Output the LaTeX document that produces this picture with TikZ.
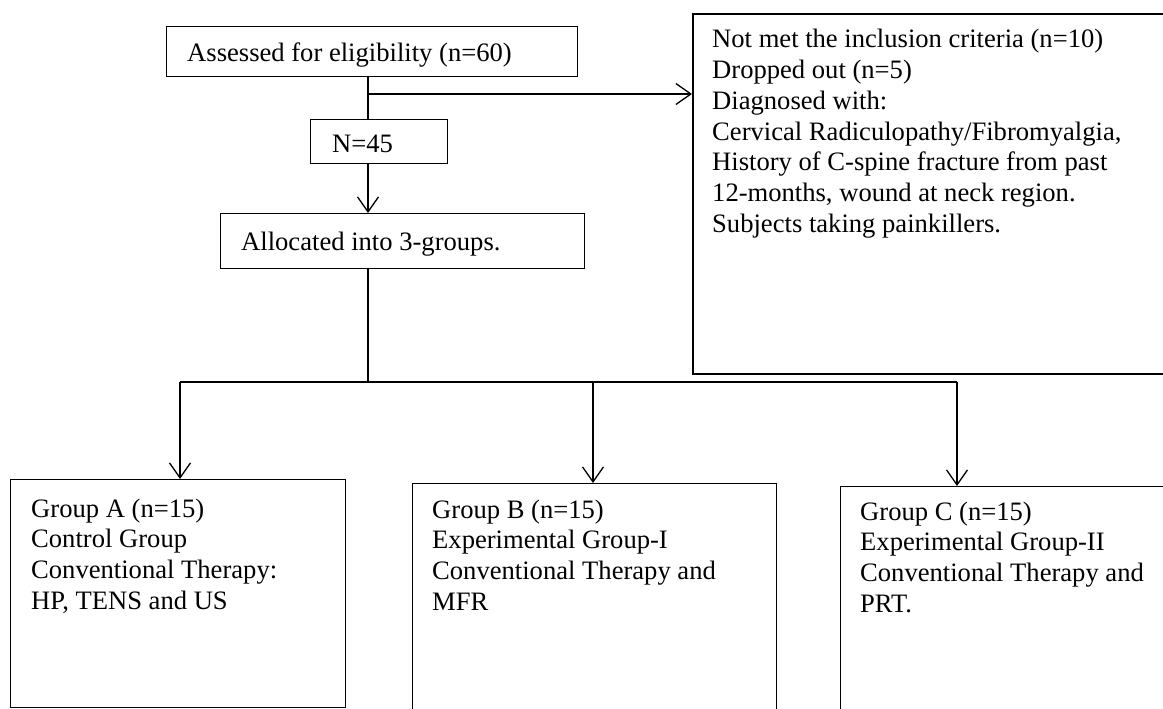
\documentclass[tikz,border=0pt]{standalone}
\usepackage{fontspec}
\setmainfont{Liberation Serif}
\usetikzlibrary{arrows.meta}
\begin{document}
\begin{tikzpicture}[x=1pt,y=-1pt,
  frame/.style={draw=black, line width=1.3pt, rectangle, inner sep=0pt, anchor=north west},
  thinframe/.style={frame, line width=1pt},
  thickframe/.style={frame, line width=1.8pt},
  txt/.style={anchor=base west, inner sep=0pt, font=\fontsize{26.6}{30.7}\selectfont},
  conn/.style={line width=1.3pt},
  arr/.style={conn, -{Straight Barb[length=15pt,width=21pt,line width=1.3pt]}}]
\useasboundingbox (0,0) rectangle (1163,709);
\clip (0,0) rectangle (1163,709);
\fill[white] (0,0) rectangle (1163,709);
% frames
\node[frame, minimum width=411pt, minimum height=50pt] (top) at (166,26) {};
\node[frame, minimum width=137pt, minimum height=44pt] (n45) at (310,119) {};
\node[frame, minimum width=364pt, minimum height=55pt] (alloc) at (220,213) {};
\node[thickframe, minimum width=520pt, minimum height=360pt] (excl) at (692,13) {};
\node[thinframe, minimum width=335pt, minimum height=228pt] (ga) at (10,479) {};
\node[thinframe, minimum width=364pt, minimum height=270pt] (gb) at (412,483) {};
\node[thinframe, minimum width=380pt, minimum height=270pt] (gc) at (840,486) {};
% texts
\node[txt] (ttop) at (187,62) {Assessed for eligibility (n=60)};
\node[txt] (tn45) at (332,153) {N=45};
\node[txt] (talloc) at (241,250) {Allocated into 3-groups.};
\node[txt] (texcl) at (712,48) {\parbox[t]{440pt}{\raggedright Not met the inclusion criteria (n=10)\\ Dropped out (n=5)\\ Diagnosed with:\\ Cervical Radiculopathy/Fibromyalgia,\\ History of C-spine fracture from past\\ 12-months, wound at neck region.\\ Subjects taking painkillers.}};
\node[txt] (tga) at (31,517) {\parbox[t]{310pt}{\raggedright Group A (n=15)\\ Control Group\\ Conventional Therapy:\\ HP, TENS and US}};
\node[txt] (tgb) at (432,518) {\parbox[t]{340pt}{\raggedright Group B (n=15)\\ Experimental Group-I\\ Conventional Therapy and\\ MFR}};
\node[txt] (tgc) at (860,520) {\parbox[t]{300pt}{\raggedright Group C (n=15)\\ Experimental Group-II\\ Conventional Therapy and\\ PRT.}};
% connectors
\coordinate (sx) at (368,0);
\coordinate (jx) at (368,94);
\coordinate (split) at (368,382);
\coordinate (ja) at (180,382);
\coordinate (jb) at (593,382);
\coordinate (jc) at (957,382);
\draw[conn] (sx |- top.south) -- (sx |- n45.north);
\draw[arr] (jx) -- (jx -| excl.west);
\draw[arr] (sx |- n45.south) -- (sx |- alloc.north);
\draw[conn] (sx |- alloc.south) -- (split);
\draw[conn] (ja) -- (jc);
\draw[arr] (ja) -- (ja |- ga.north);
\draw[arr] (jb) -- (jb |- gb.north);
\draw[arr] (jc) -- (jc |- gc.north);
\end{tikzpicture}
\end{document}
